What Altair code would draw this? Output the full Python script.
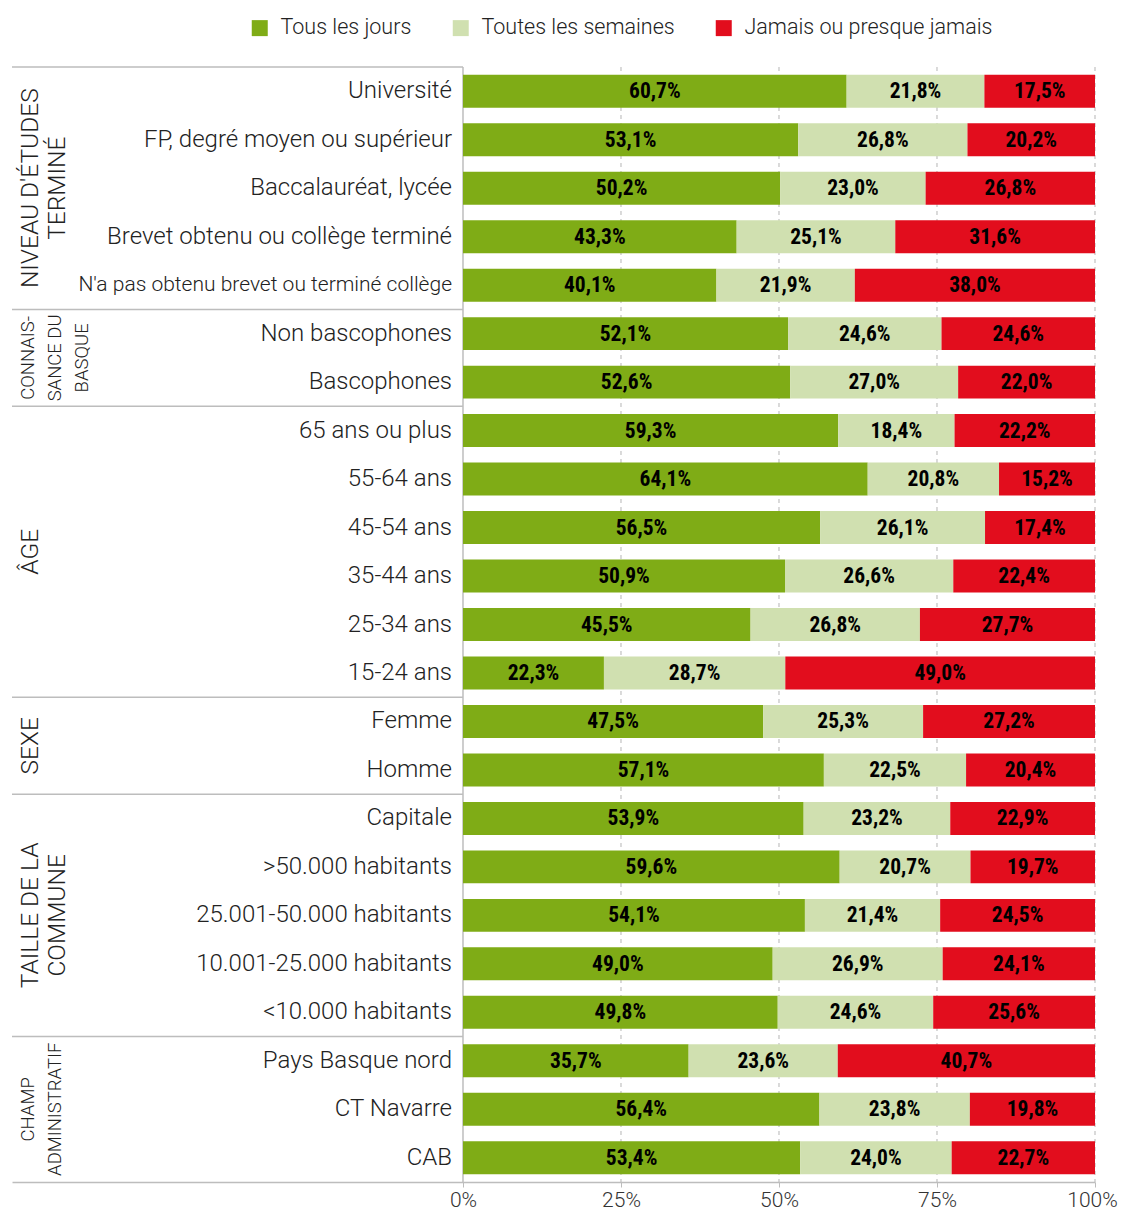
import altair as alt
import pandas as pd

# ---------------- data ----------------
series = ["Tous les jours", "Toutes les semaines", "Jamais ou presque jamais"]
colors = ["#7FAC16", "#D0E0B0", "#E20D1D"]

group_lines = [
    ["NIVEAU D'ÉTUDES", "TERMINÉ"],
    ["CONNAIS-", "SANCE DU", "BASQUE"],
    ["ÂGE"],
    ["SEXE"],
    ["TAILLE DE LA", "COMMUNE"],
    ["CHAMP", "ADMINISTRATIF"],
]
group_sizes = [5, 2, 6, 2, 5, 3]
group_compact = [False, True, False, False, False, True]

categories = [
    "Université",
    "FP, degré moyen ou supérieur",
    "Baccalauréat, lycée",
    "Brevet obtenu ou collège terminé",
    "N'a pas obtenu brevet ou terminé collège",
    "Non bascophones",
    "Bascophones",
    "65 ans ou plus",
    "55-64 ans",
    "45-54 ans",
    "35-44 ans",
    "25-34 ans",
    "15-24 ans",
    "Femme",
    "Homme",
    "Capitale",
    ">50.000 habitants",
    "25.001-50.000 habitants",
    "10.001-25.000 habitants",
    "<10.000 habitants",
    "Pays Basque nord",
    "CT Navarre",
    "CAB",
]
daily = [60.7, 53.1, 50.2, 43.3, 40.1, 52.1, 52.6, 59.3, 64.1, 56.5, 50.9, 45.5,
         22.3, 47.5, 57.1, 53.9, 59.6, 54.1, 49.0, 49.8, 35.7, 56.4, 53.4]
weekly = [21.8, 26.8, 23.0, 25.1, 21.9, 24.6, 27.0, 18.4, 20.8, 26.1, 26.6, 26.8,
          28.7, 25.3, 22.5, 23.2, 20.7, 21.4, 26.9, 24.6, 23.6, 23.8, 24.0]
never = [17.5, 20.2, 26.8, 31.6, 38.0, 24.6, 22.0, 22.2, 15.2, 17.4, 22.4, 27.7,
         49.0, 27.2, 20.4, 22.9, 19.7, 24.5, 24.1, 25.6, 40.7, 19.8, 22.7]
tick_values = [0, 0.25, 0.5, 0.75, 1]

# ---------------- layout constants ----------------
PLOT_W = 1083
PLOT_H = 1115
LEFT = 0.7136          # room for the labels, as a share of the 0-100% range
N = len(categories)
HALF = 0.34            # half bar thickness in row units

# ---------------- tables ----------------
values = [daily, weekly, never]
recs = []
for i, cat in enumerate(categories):
    for k, s in enumerate(series):
        v = values[k][i]
        recs.append({"row": i, "series": s, "order": k, "value": v,
                     "label": f"{v:.1f}%".replace(".", ",")})
bars_df = pd.DataFrame(recs)

cat_df = pd.DataFrame({"row": list(range(N)), "name": categories, "x": 0.0})

g_recs = []
start = 0
for lines, n, compact in zip(group_lines, group_sizes, group_compact):
    g_recs.append({"text": "\n".join(lines), "gy": start + (n - 1) / 2,
                   "top": start - 0.5, "xa": -LEFT, "xb": 0.0,
                   "compact": compact})
    start += n
groups_df = pd.DataFrame(g_recs)

grid_df = pd.DataFrame({"t": tick_values, "y0": -0.5, "y1": N - 0.5,
                        "first": [i == 0 for i in range(len(tick_values))]})

xscale = alt.Scale(domain=[-LEFT, 1], nice=False, zero=False)
yscale = alt.Scale(domain=[-0.5, N - 0.5], reverse=True, nice=False, zero=False)

xaxis = alt.Axis(values=tick_values, format=".0%", grid=False, title=None,
                 domainColor="#bdbdbd", domainWidth=1.5,
                 tickColor="#bdbdbd", tickSize=5, tickWidth=1,
                 labelFont="Roboto", labelFontWeight=300, labelFontSize=21,
                 labelColor="#333333", labelPadding=2, labelFlush=False,
                 labelOffset={"condition": {"test": "datum.value >= 1", "value": -3},
                              "value": 0})

grid = alt.Chart(grid_df).transform_filter("!datum.first").mark_rule(
    color="#b5b5b5", strokeWidth=1, strokeDash=[4, 4]
).encode(
    x=alt.X("t:Q", scale=xscale, axis=xaxis),
    y=alt.Y("y0:Q", scale=yscale, axis=None),
    y2="y1:Q",
)

zero_line = alt.Chart(grid_df).transform_filter("datum.first").mark_rule(
    color="#bdbdbd", strokeWidth=1.5
).encode(
    x=alt.X("t:Q"),
    y=alt.Y("y0:Q"),
    y2="y1:Q",
)

separators = alt.Chart(groups_df).mark_rule(color="#bdbdbd", strokeWidth=1.5).encode(
    x=alt.X("xa:Q"),
    x2="xb:Q",
    y=alt.Y("top:Q"),
)

stacked = alt.Chart(bars_df).transform_stack(
    stack="value", groupby=["row"], as_=["x0", "x1"], offset="normalize",
    sort=[alt.SortField("order", order="ascending")],
).transform_calculate(
    ylo=f"datum.row - {HALF}", yhi=f"datum.row + {HALF}",
    xm="(datum.x0 + datum.x1) / 2",
)

bars = stacked.mark_bar().encode(
    x=alt.X("x0:Q"),
    x2="x1:Q",
    y=alt.Y("ylo:Q"),
    y2="yhi:Q",
    color=alt.Color(
        "series:N",
        scale=alt.Scale(domain=series, range=colors),
        sort=series,
        legend=alt.Legend(
            orient="none", legendX=237, legendY=-50, direction="horizontal",
            title=None, symbolType="square", symbolSize=256, symbolStrokeWidth=0,
            labelFont="Roboto", labelFontSize=21.5, labelFontWeight=300,
            labelColor="#222222", labelOffset=10, columnPadding=38, padding=0,
            labelLimit=0,
        ),
    ),
)

value_text = stacked.mark_text(
    font="Roboto Condensed, Liberation Sans Narrow, DejaVu Sans Condensed, sans-serif",
    fontWeight="bold", fontSize=21.5, color="black", baseline="middle", dy=1,
).encode(
    x="xm:Q",
    y="row:Q",
    text="label:N",
)

cat_text = alt.Chart(cat_df).mark_text(
    align="right", baseline="middle", dx=-11, font="Roboto", fontWeight=300,
    color="#222222",
).encode(
    x="x:Q",
    y="row:Q",
    text="name:N",
    size=alt.condition("length(datum.name) > 35", alt.value(21), alt.value(24)),
)

group_text = alt.Chart(groups_df).mark_text(
    angle=270, align="center", baseline="top", font="Roboto", fontWeight=300,
    color="#222222", lineHeight=27, lineBreak="\n",
).encode(
    x=alt.value(7),
    y="gy:Q",
    text="text:N",
    size=alt.condition("datum.compact", alt.value(18.5), alt.value(24.5)),
)

chart = alt.layer(grid, zero_line, separators, bars, value_text, cat_text, group_text).properties(
    width=PLOT_W,
    height=PLOT_H,
    autosize=alt.AutoSizeParams(type="none"),
    padding={"left": 4, "top": 59, "right": 23, "bottom": 32},
).configure_view(stroke=None)

chart.save("out.html", embed_options={"renderer": "svg", "actions": False})
